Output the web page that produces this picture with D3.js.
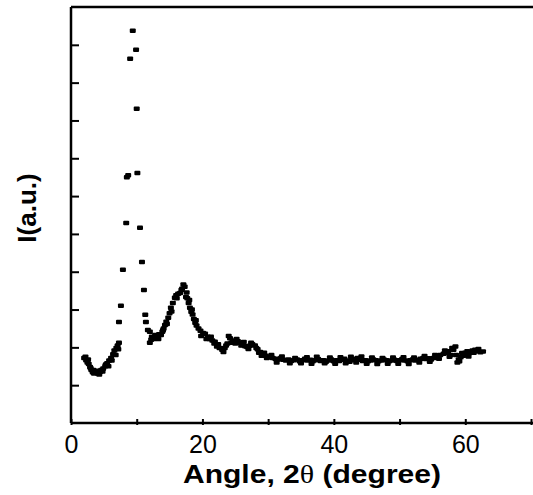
<!DOCTYPE html>
<html>
<head>
<meta charset="utf-8">
<script src="https://cdn.jsdelivr.net/npm/d3@7"></script>
<style>
  html, body { margin: 0; padding: 0; background: #fff; }
  svg { display: block; }
</style>
</head>
<body>
<div id="chart"></div>
<script>
// diffraction pattern (2theta in degrees, intensity in arbitrary units)
const angle = [
  2.0, 2.3, 2.5, 2.7, 2.9, 3.1, 3.3, 3.5, 3.8, 4.1, 4.4, 4.6, 4.9, 5.2, 5.5, 5.8, 6.1, 6.4, 6.6, 6.9,
  7.1, 7.3, 7.3, 7.6, 7.9, 8.4, 8.5, 8.7, 9.0, 9.4, 9.9, 10.0, 10.1, 10.5, 10.8, 11.1, 11.3, 11.4, 11.7, 12.0,
  12.0, 12.3, 12.6, 12.9, 13.1, 13.4, 13.7, 13.9, 14.1, 14.3, 14.6, 14.8, 15.0, 15.2, 15.5, 15.8, 16.0, 16.3, 16.6, 16.9,
  17.1, 17.3, 17.5, 17.7, 17.9, 18.1, 18.3, 18.5, 18.7, 18.9, 19.1, 19.4, 19.7, 20.1, 20.4, 20.8, 21.1, 21.5, 21.8, 22.2,
  22.6, 23.0, 23.4, 23.8, 24.2, 24.6, 25.0, 25.4, 25.7, 26.1, 26.5, 26.8, 27.2, 27.6, 28.0, 28.4, 28.8, 29.2, 29.6, 30.0,
  30.3, 30.7, 31.1, 31.5, 31.9, 32.3, 32.7, 33.1, 33.5, 33.9, 34.4, 34.8, 35.2, 35.6, 36.0, 36.4, 36.8, 37.2, 37.6, 38.0,
  38.4, 38.8, 39.2, 39.6, 40.0, 40.4, 40.8, 41.2, 41.6, 42.0, 42.4, 42.8, 43.2, 43.6, 44.0, 44.4, 44.8, 45.2, 45.6, 46.0,
  46.4, 46.8, 47.2, 47.6, 48.0, 48.4, 48.8, 49.2, 49.6, 50.0, 50.4, 50.8, 51.2, 51.6, 52.0, 52.4, 52.8, 53.2, 53.6, 54.0,
  54.4, 54.8, 55.2, 55.7, 56.2, 56.7, 57.1, 57.4, 57.8, 58.2, 58.5, 58.8, 59.0, 59.3, 59.7, 60.0, 60.3, 60.7, 61.1, 61.5,
  61.9, 62.3, 62.7,
  // second pass of scattered readings
  2.2, 2.6, 3.0, 3.4, 3.9, 4.3, 4.8, 5.3, 5.7, 6.2, 6.8, 7.2,
  12.2, 12.8, 13.3, 14.0, 14.5, 15.3, 16.1, 16.8, 17.6, 18.0, 18.4, 19.0,
  19.8, 20.6, 21.3, 21.9, 22.4, 23.2, 23.6, 24.0, 24.4, 25.2, 25.9, 26.3, 27.0, 27.4, 28.2, 28.6, 29.0, 29.4, 29.8, 30.5,
  31.3, 32.1, 33.3, 34.1, 35.0, 35.9, 36.6, 37.4, 38.6, 39.4, 40.2, 41.0, 41.8, 42.6, 43.4, 44.2, 45.0, 45.8, 46.6, 47.4,
  48.2, 49.0, 49.8, 50.6, 51.4, 52.2, 53.0, 53.8, 54.6, 55.4, 56.0, 56.9, 57.6, 58.0, 58.6, 59.1, 59.5, 60.5, 61.3, 62.0
];
const intensity = [
  172, 166, 160, 156, 148, 140, 134, 131, 133, 131, 135, 140, 144, 150, 158, 165, 172, 182, 192, 198,
  205, 212, 267, 310, 405, 529, 650, 655, 963, 1037, 987, 831, 661, 516, 426, 352, 286, 267, 246, 241,
  212, 228, 222, 225, 230, 235, 233, 241, 250, 259, 262, 278, 290, 305, 317, 331, 338, 342, 344, 355,
  366, 360, 333, 330, 317, 305, 294, 287, 275, 265, 258, 250, 244, 238, 236, 228, 222, 218, 210, 202,
  198, 194, 198, 210, 224, 218, 210, 216, 212, 206, 203, 201, 204, 208, 205, 195, 188, 182, 178, 176,
  174, 172, 170, 168, 171, 167, 165, 168, 164, 166, 168, 163, 166, 170, 165, 167, 163, 166, 169, 164,
  166, 162, 165, 168, 163, 166, 164, 167, 170, 165, 162, 166, 169, 172, 167, 164, 166, 163, 165, 168,
  166, 163, 165, 168, 166, 163, 165, 167, 164, 166, 169, 165, 163, 166, 168, 165, 167, 170, 172, 169,
  171, 168, 172, 176, 180, 183, 186, 190, 180, 194, 202, 160, 168, 174, 178, 186, 190, 186, 192, 194,
  190, 187, 189,
  175, 168, 145, 140, 138, 128, 136, 155, 150, 165, 180, 195,
  220, 233, 222, 245, 268, 295, 330, 352, 345, 325, 300, 272,
  230, 222, 228, 215, 208, 188, 205, 230, 212, 222, 205, 214, 196, 212, 198, 186, 178, 186, 172, 180,
  160, 176, 158, 172, 158, 174, 157, 175, 158, 173, 157, 174, 158, 175, 160, 176, 157, 173, 156, 172,
  157, 173, 157, 174, 156, 173, 160, 177, 162, 180, 170, 192, 175, 198, 180, 163, 185, 176, 186, 196
];
const xTicks = [0, 10, 20, 30, 40, 50, 60, 70];
const xTickLabels = ['0', '', '20', '', '40', '', '60', ''];
const yTicks = [100, 200, 300, 400, 500, 600, 700, 800, 900, 1000];

const width = 533;
const height = 495;
const margin = { top: 7, right: 0, bottom: 72, left: 71 };

const svg = d3
  .select('#chart')
  .append('svg')
  .attr('width', width)
  .attr('height', height);

const x = d3.scaleLinear().domain([0, 70]).range([margin.left, 531]);
const y = d3
  .scaleLinear()
  .domain([0, 1100])
  .range([height - margin.bottom, margin.top]);

const points = angle.map((a, i) => ({ a, v: intensity[i] }));

// x axis: short inward ticks, labels only on every other tick
const xAxis = svg
  .append('g')
  .attr('transform', `translate(0, ${y(0)})`)
  .call(
    d3
      .axisBottom(x)
      .tickValues(xTicks)
      .tickSizeInner(-4)
      .tickSizeOuter(0)
      .tickFormat((d, i) => xTickLabels[i]),
  );
xAxis.select('.domain').remove();
xAxis.selectAll('.tick line').attr('stroke', '#000').attr('stroke-width', 2).attr('y1', 2);
xAxis
  .selectAll('.tick text')
  .attr('y', 30)
  .attr('dy', 0)
  .attr('fill', '#000')
  .style('font-family', '"Liberation Sans", Arial, sans-serif')
  .style('font-size', '25px');

// y axis: inward ticks, no labels
const yAxis = svg
  .append('g')
  .attr('transform', `translate(${x(0)}, 0)`)
  .call(
    d3
      .axisLeft(y)
      .tickValues(yTicks)
      .tickSizeInner(-8)
      .tickSizeOuter(0)
      .tickFormat(''),
  );
yAxis.select('.domain').remove();
yAxis.selectAll('.tick line').attr('stroke', '#000').attr('stroke-width', 2);

// frame: left, top and bottom lines, open on the right
const frame = svg.append('g').attr('stroke', '#000').attr('stroke-width', 2.5);
frame.append('line').attr('x1', x(0)).attr('x2', x(0)).attr('y1', y(1100)).attr('y2', y(0));
frame.append('line').attr('x1', x(0)).attr('x2', width).attr('y1', y(1100)).attr('y2', y(1100));
frame.append('line').attr('x1', x(0)).attr('x2', width).attr('y1', y(0)).attr('y2', y(0));

// data marks
svg
  .append('g')
  .selectAll('rect')
  .data(points)
  .join('rect')
  .attr('x', d => x(d.a) - 3)
  .attr('y', d => y(d.v) - 2.25)
  .attr('width', 6)
  .attr('height', 4.5)
  .attr('rx', 1)
  .attr('fill', '#000');

// axis titles
const xTitle = svg
  .append('text')
  .attr('x', 312)
  .attr('y', 483)
  .attr('text-anchor', 'middle')
  .attr('textLength', 258)
  .attr('lengthAdjust', 'spacingAndGlyphs')
  .style('font-family', '"Liberation Sans", Arial, sans-serif')
  .style('font-size', '25px')
  .style('font-weight', 'bold');
xTitle.append('tspan').text('Angle, 2');
xTitle
  .append('tspan')
  .style('font-family', '"Liberation Serif", "Times New Roman", serif')
  .style('font-weight', 'normal')
  .text('\u03b8');
xTitle.append('tspan').text(' (degree)');

svg
  .append('text')
  .attr('transform', 'translate(36, 208) rotate(-90)')
  .attr('text-anchor', 'middle')
  .style('font-family', '"Liberation Sans", Arial, sans-serif')
  .style('font-size', '26px')
  .style('font-weight', 'bold')
  .text('I(a.u.)');
</script>
</body>
</html>
